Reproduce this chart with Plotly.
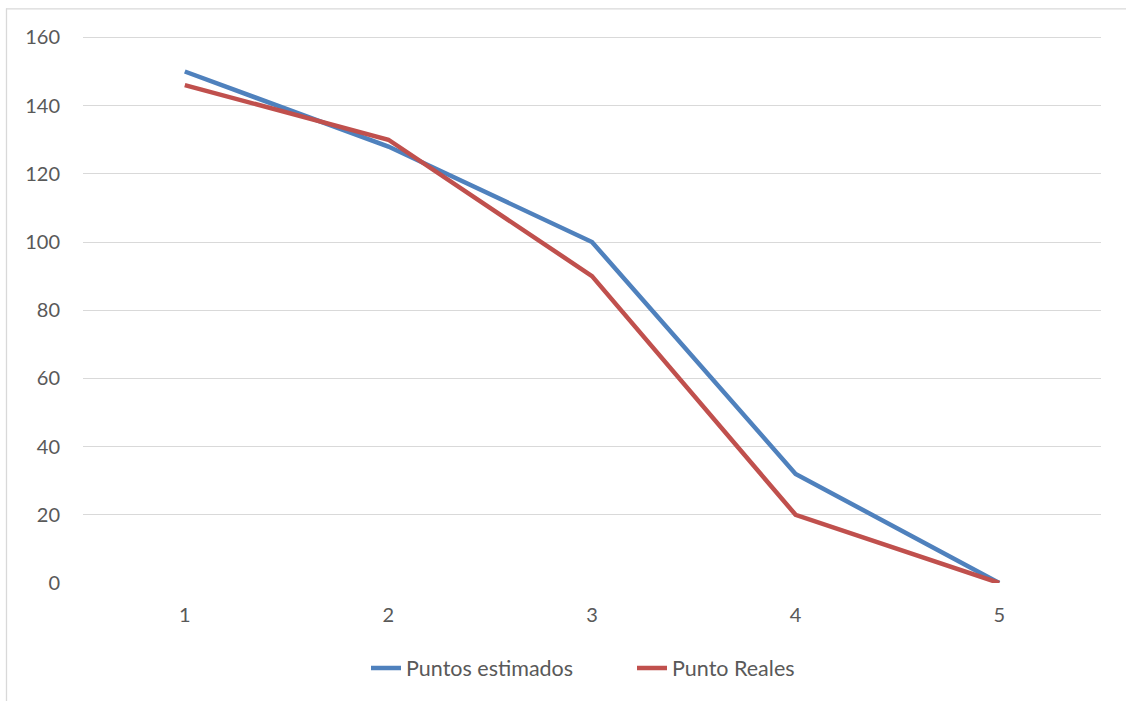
import plotly.graph_objects as go

categories = [1, 2, 3, 4, 5]
puntos_estimados = [150, 128, 100, 32, 0]
punto_reales = [146, 130, 90, 20, 0]
y_ticks = [0, 20, 40, 60, 80, 100, 120, 140, 160]

W, H = 1126, 701
Y_MAX = 161
L, R, B = 83, 25, 118
T = 37 - (Y_MAX - 160) * (583 - 37) / 160
pw, ph = W - L - R, H - T - B

def px_x(p):
    return (p - L) / pw

def px_y(p):
    return (H - B - p) / ph

font_family = "Lato, 'Open Sans', sans-serif"
tick_color = "#595959"

fig = go.Figure()
fig.add_trace(go.Scatter(x=categories, y=puntos_estimados, mode="lines",
                         name="Puntos estimados",
                         line=dict(color="#4F81BD", width=4.5)))
fig.add_trace(go.Scatter(x=categories, y=punto_reales, mode="lines",
                         name="Punto Reales",
                         line=dict(color="#C0504D", width=4.5)))

fig.update_layout(
    width=W, height=H,
    margin=dict(l=L, r=R, t=T, b=B, pad=0),
    paper_bgcolor="white", plot_bgcolor="white",
    font=dict(family=font_family, size=20, color=tick_color),
    showlegend=True,
    legend=dict(orientation="h", x=px_x(366), xanchor="left",
                y=px_y(668), yanchor="middle",
                font=dict(size=21.5, color=tick_color),
                bgcolor="rgba(0,0,0,0)",
                entrywidth=221, entrywidthmode="pixels",
                tracegroupgap=0),
    xaxis=dict(range=[0.5, 5.5], tickvals=categories,
               ticktext=[str(c) for c in categories],
               showgrid=False, zeroline=False, showline=False,
               ticks="", ticklabelstandoff=18,
               tickfont=dict(size=20, color=tick_color)),
    yaxis=dict(range=[0, Y_MAX], tickvals=y_ticks,
               showgrid=True, gridcolor="#D9D9D9", gridwidth=1.3,
               zeroline=False, showline=False, ticks="",
               ticklabelstandoff=22,
               tickfont=dict(size=20, color=tick_color)),
    shapes=[
        dict(type="line", xref="paper", yref="paper",
             x0=px_x(6.5), x1=px_x(6.5), y0=px_y(8), y1=px_y(705),
             line=dict(color="#D9D9D9", width=1.3)),
        dict(type="line", xref="paper", yref="paper",
             x0=px_x(6), x1=px_x(1130), y0=px_y(8.5), y1=px_y(8.5),
             line=dict(color="#D9D9D9", width=1.3)),
    ],
)

fig.write_html("out.html", config={"displayModeBar": False},
               post_script="document.body.style.margin='0px';")
